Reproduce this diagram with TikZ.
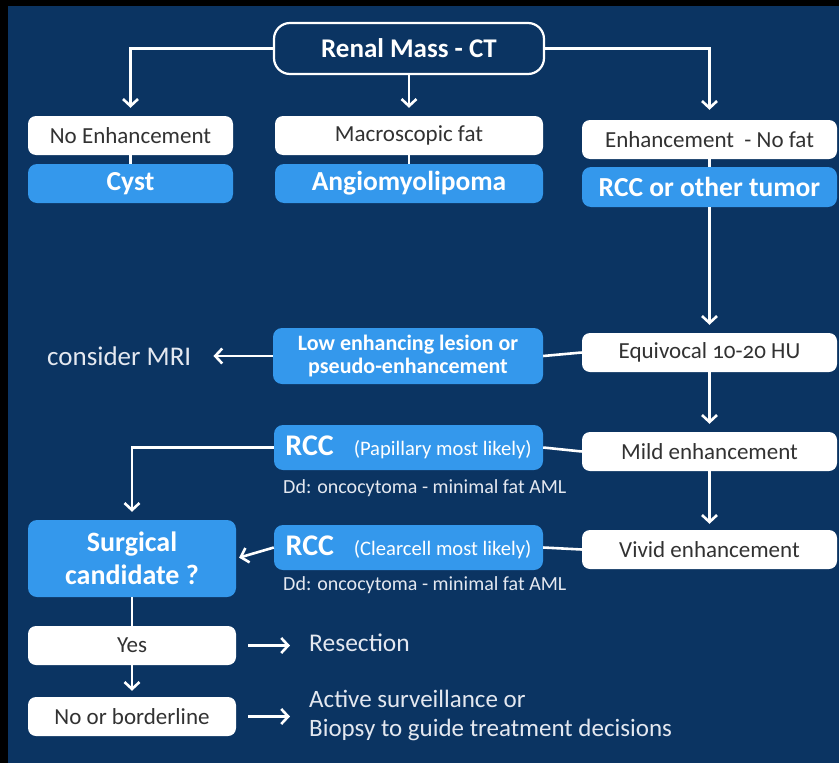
\documentclass[tikz,border=0pt]{standalone}
\usepackage{fontspec}
\setmainfont{Carlito}[Numbers=OldStyle]
\usetikzlibrary{arrows.meta}
\definecolor{navy}{RGB}{11,52,98}
\definecolor{boxblue}{RGB}{52,152,236}
\definecolor{graytext}{RGB}{50,50,50}
\definecolor{lighttext}{RGB}{228,232,240}
\begin{document}
\begin{tikzpicture}[x=1pt,y=-1pt,
  wbox/.style={fill=white, rounded corners=8pt, text=graytext, inner sep=0pt,
    font=\fontsize{23}{25}\selectfont, align=center},
  bbox/.style={fill=boxblue, rounded corners=9pt, text=white, inner sep=0pt,
    font=\bfseries\fontsize{27.5}{30}\selectfont, align=center},
  plain/.style={text=lighttext, inner sep=0pt, anchor=west, align=left},
  conn/.style={draw=white, line width=2.6pt},
  arr/.style={conn, -{Straight Barb[length=7pt,width=15pt]}}
]
\useasboundingbox (0,0) rectangle (839,763);
\fill[black] (0,0) rectangle (839,763);
\fill[navy] (8,6) rectangle (839,763);

% top
\node[draw=white, line width=2.2pt, fill=navy, rounded corners=16pt, text=white,
  minimum width=270pt, minimum height=51pt, inner sep=0pt,
  font=\bfseries\fontsize{27}{30}\selectfont] (renal) at (409,48.5) {Renal Mass - CT};

\node[wbox, minimum width=205pt, minimum height=39pt] (noenh) at (130.5,135.5) {No Enhancement};
\node[bbox, minimum width=205pt, minimum height=39pt] (cyst) at (130.5,183.5) {Cyst};
\node[wbox, minimum width=268pt, minimum height=39pt] (macro) at (409,135.5) {Macroscopic fat};
\node[bbox, minimum width=268pt, minimum height=39pt] (aml) at (409,183.5) {Angiomyolipoma};
\node[wbox, minimum width=255pt, minimum height=39pt] (enh) at (709.5,139.5) {Enhancement\ \ - No fat};
\node[bbox, minimum width=255pt, minimum height=40pt] (rccother) at (709.5,187) {RCC or other tumor};

% right column
\node[wbox, minimum width=255pt, minimum height=39pt] (equiv) at (709.5,352.5) {Equivocal 10-20 HU};
\node[wbox, minimum width=255pt, minimum height=39pt] (mild) at (709.5,451.5) {Mild enhancement};
\node[wbox, minimum width=255pt, minimum height=39pt] (vivid) at (709.5,549.5) {Vivid enhancement};

% middle column
\node[bbox, minimum width=270pt, minimum height=56pt, font=\bfseries\fontsize{22}{23.5}\selectfont]
  (low) at (408,356) {Low enhancing lesion or\\pseudo-enhancement};
\node[bbox, minimum width=269pt, minimum height=45pt] (rccpap) at (408.5,447.5)
  {{\fontsize{30}{32}\selectfont RCC}\hspace{20pt}{\mdseries\fontsize{20.6}{22}\selectfont (Papillary most likely)}};
\node[plain, font=\fontsize{20}{22}\selectfont] (dd1) at (283,488) {Dd: oncocytoma - minimal fat AML};
\node[bbox, minimum width=269pt, minimum height=45pt] (rccclear) at (408.5,547.5)
  {{\fontsize{30}{32}\selectfont RCC}\hspace{20pt}{\mdseries\fontsize{20.6}{22}\selectfont (Clearcell most likely)}};
\node[plain, font=\fontsize{20}{22}\selectfont] (dd2) at (283,585) {Dd: oncocytoma - minimal fat AML};

% left column
\node[plain, font=\fontsize{27}{30}\selectfont] (mri) at (47,356) {consider MRI};
\node[bbox, minimum width=208pt, minimum height=77pt, font=\bfseries\fontsize{28}{33}\selectfont]
  (surg) at (132,558.5) {Surgical\\candidate ?};
\node[wbox, minimum width=208pt, minimum height=39pt] (yes) at (132,645.5) {Yes};
\node[wbox, minimum width=208pt, minimum height=39pt] (nob) at (132,716.5) {No or borderline};
\node[plain, font=\fontsize{25.5}{28}\selectfont] (resect) at (309,643) {Resection};
\node[plain, font=\fontsize{25}{29}\selectfont] (active) at (309,715) {Active surveillance or\\Biopsy to guide treatment decisions};

% connectors
\draw[arr] (renal.west) -| ([yshift=8pt]noenh.north);
\draw[arr] (renal.south) -- ([yshift=8pt]macro.north);
\draw[arr] (renal.east) -| ([yshift=10pt]enh.north);
\draw[conn] (noenh.south) -- (cyst.north);
\draw[conn] (macro.south) -- (aml.north);
\draw[conn] (enh.south) -- (rccother.north);
\draw[arr] (rccother.south) -- ([yshift=8pt]equiv.north);
\draw[conn] (equiv.west) -- (low.east);
\draw[arr, shorten >=22pt] (low.west) -- (mri.east);
\draw[arr] (equiv.south) -- ([yshift=8pt]mild.north);
\draw[conn] (mild.west) -- (rccpap.east);
\draw[arr] (rccpap.west) -| ([yshift=8pt]surg.north);
\draw[arr] (mild.south) -- ([yshift=6pt]vivid.north);
\draw[conn] (vivid.west) -- (rccclear.east);
\draw[arr, shorten >=3pt] (rccclear.west) -- (surg.east);
\draw[conn] (surg.south) -- (yes.north);
\draw[arr] (yes.south) -- ([yshift=6pt]nob.north);
\draw[arr, shorten <=12pt, shorten >=19pt] (yes.east) -- (yes.east -| resect.west);
\draw[arr, shorten <=12pt, shorten >=19pt] (nob.east) -- (nob.east -| active.west);
\end{tikzpicture}
\end{document}
